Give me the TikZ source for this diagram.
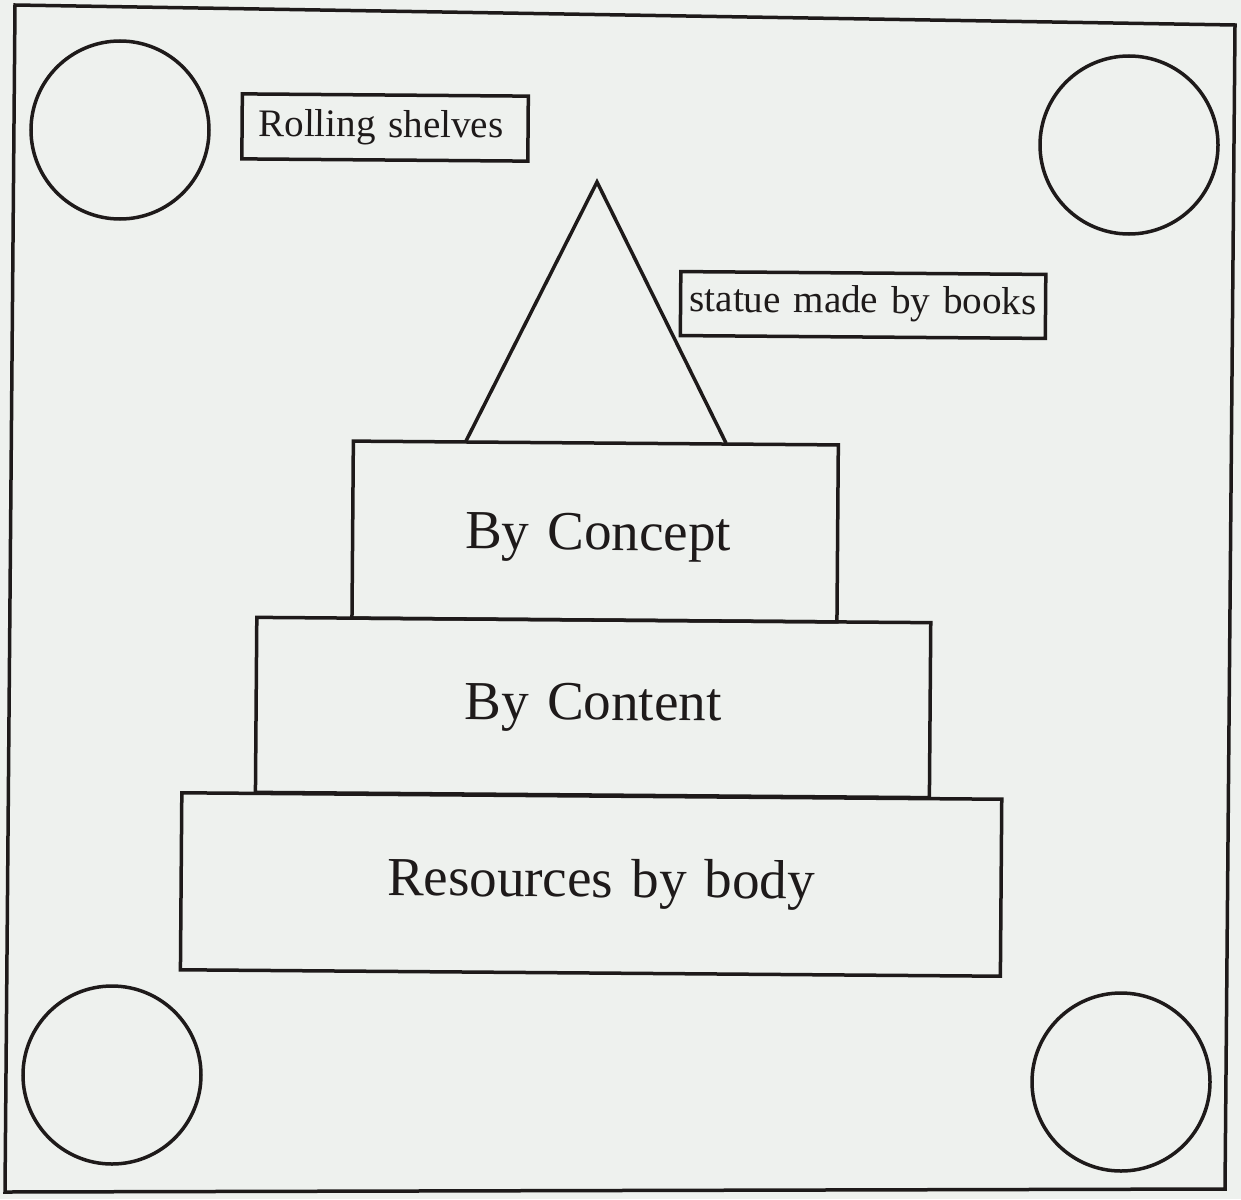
\documentclass[tikz,border=0pt]{standalone}
\usepackage{fontspec}
\setmainfont{Liberation Serif}
\definecolor{paper}{RGB}{238,241,238}
\definecolor{ink}{RGB}{30,26,26}
\tikzset{
  ln/.style={draw=ink, line width=3.5pt},
  wheel/.style={ln, circle, inner sep=0pt, minimum size=178pt},
  tagbox/.style={ln, rectangle, inner sep=0pt, anchor=base, align=center, rotate=-0.45,
                 font=\fontsize{39}{47}\selectfont, text=ink},
  tierbox/.style={ln, rectangle, inner sep=0pt, anchor=base, align=center, rotate=-0.45,
                 font=\fontsize{55}{66}\selectfont, text=ink},
}
\begin{document}
\begin{tikzpicture}[x=1pt, y=-1pt]
\useasboundingbox (0,0) rectangle (1241,1199);
\fill[paper] (0,0) rectangle (1241,1199);
% outer frame
\coordinate (ftl) at (15,5);
\coordinate (ftr) at (1235,25);
\coordinate (fbr) at (1225,1189);
\coordinate (fbl) at (5,1192);
\draw[ln, line join=miter] (ftl) -- (ftr) -- (fbr) -- (fbl) -- cycle;
% wheels
\node[wheel] (wtl) at (120,130) {};
\node[wheel] (wtr) at (1129,145) {};
\node[wheel] (wbl) at (112,1075) {};
\node[wheel] (wbr) at (1121,1082) {};
% labels
\node[tagbox, text width=286pt, text height=42pt, text depth=23pt] (rolling) at (385,137) {\hspace*{-8pt}Rolling shelves};
\node[tagbox, text width=365pt, text height=40pt, text depth=24pt] (statue) at (863,313) {statue made by books};
% tiers
\node[tierbox, text width=485pt, text height=107pt, text depth=70pt] (concept) at (595,550) {\hspace*{6pt}By Concept};
\node[tierbox, text width=674pt, text height=100pt, text depth=75pt] (content) at (593,720) {By Content};
\node[tierbox, text width=820pt, text height=101pt, text depth=76pt] (body) at (591,897) {\hspace*{20pt}Resources by body};
% statue triangle
\coordinate (apex) at (597,182);
\coordinate (bl) at (466,441);
\coordinate (br) at (726,443);
\draw[ln, line join=miter] (bl) -- (apex) -- (br);
\end{tikzpicture}
\end{document}
